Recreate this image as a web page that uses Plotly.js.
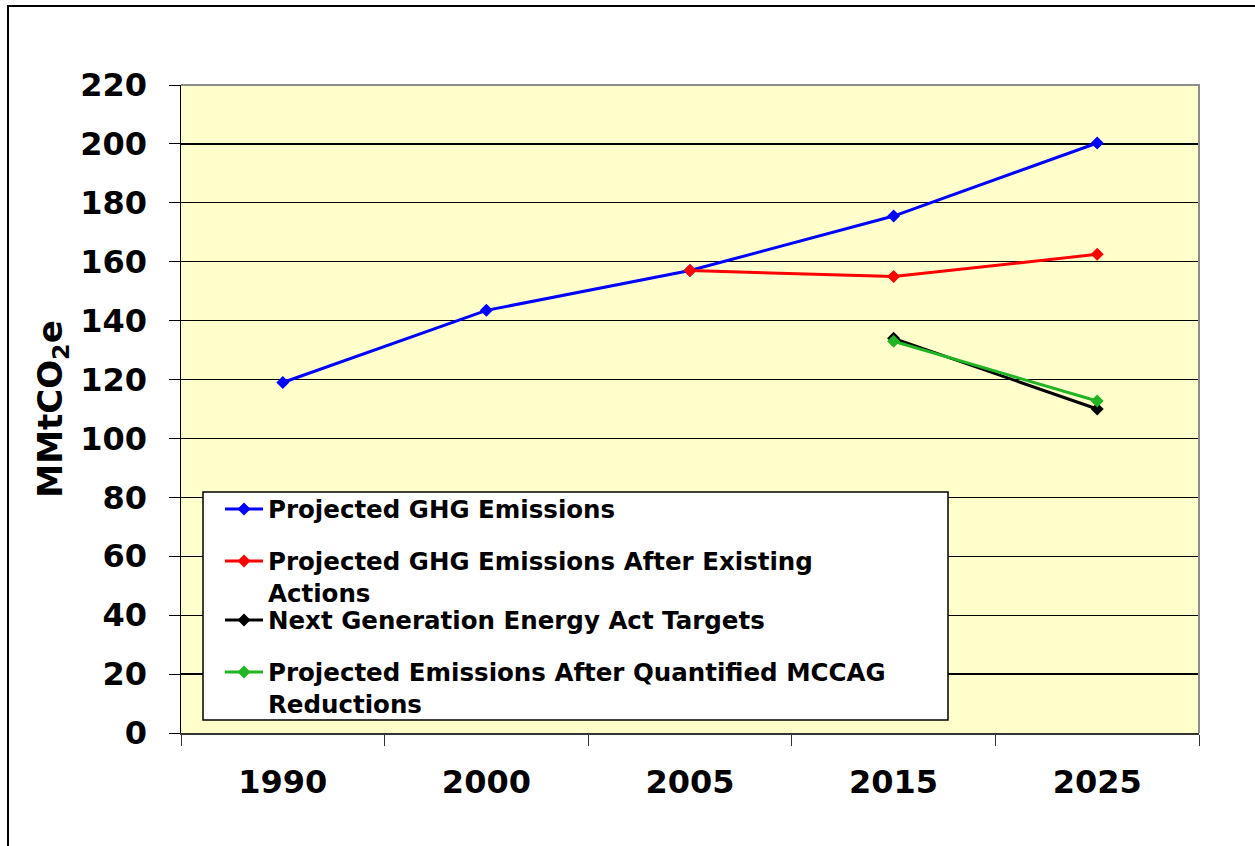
<!DOCTYPE html>
<html>
<head>
<meta charset="utf-8">
<script src="https://cdn.plot.ly/plotly-3.0.1.min.js"></script>
<style>
  html, body { margin: 0; padding: 0; background: #fff; }
  #wrap { position: relative; width: 1255px; height: 846px; overflow: hidden; }
  #chart { position: absolute; left: 0; top: 0; width: 1255px; height: 846px; }
  #frame { position: absolute; left: 7px; top: 5px; width: 1300px; height: 900px;
           border-top: 2.5px solid #000; border-left: 2.5px solid #000; pointer-events: none; }
</style>
</head>
<body>
<div id="wrap">
  <div id="chart"></div>
  <div id="frame"></div>
</div>
<script>
// ---- data ----
const years = ['1990', '2000', '2005', '2015', '2025'];
const projectedGHG = [119, 143.5, 157, 175.5, 200.3];
const afterExisting = [null, null, 157, 155, 162.5];
const ngeaTargets = [null, null, null, 134, 110];
const afterMCCAG = [null, null, null, 133, 112.7];

const seriesNames = [
  'Projected GHG Emissions',
  'Projected GHG Emissions After Existing<br>Actions',
  'Next Generation Energy Act Targets',
  'Projected Emissions After Quantified MCCAG<br>Reductions'
];
const yTicks = [0, 20, 40, 60, 80, 100, 120, 140, 160, 180, 200, 220];

// ---- chart ----
const FONT = 'DejaVu Sans, Verdana, sans-serif';

function line(y, name, color, legendId) {
  return {
    x: years, y: y, name: name, type: 'scatter', mode: 'lines+markers',
    line: { color: color, width: 3 },
    marker: { symbol: 'diamond', size: 10, color: color },
    connectgaps: false, legend: legendId, cliponaxis: false
  };
}

const traces = [
  line(projectedGHG, seriesNames[0], '#0000FF', 'legend'),
  line(afterExisting, seriesNames[1], '#FF0000', 'legend2'),
  line(ngeaTargets, seriesNames[2], '#000000', 'legend3'),
  line(afterMCCAG, seriesNames[3], '#22B422', 'legend4')
];

const L = 181, R = 1199, T = 85, B = 733;
const W = R - L, H = B - T;
const px = v => (v - L) / W;
const py = v => (B - v) / H;

function legendAt(yPix) {
  return {
    x: px(220), xanchor: 'left', y: py(yPix), yanchor: 'middle',
    bgcolor: 'rgba(0,0,0,0)', borderwidth: 0, valign: 'top',
    itemwidth: 38,
    font: { family: FONT, size: 24.5, weight: 'bold', color: '#000' }
  };
}

const layout = {
  width: 1255, height: 846,
  margin: { l: L, r: 1255 - R, t: T, b: 846 - B, pad: 0 },
  paper_bgcolor: '#FFFFFF',
  plot_bgcolor: '#FFFFCC',
  showlegend: true,
  font: { family: FONT, color: '#000' },
  xaxis: {
    type: 'category', categoryorder: 'array', categoryarray: years,
    range: [-0.5, 4.5], tickson: 'boundaries',
    ticks: 'outside', ticklen: 11, tickcolor: '#333', tickwidth: 1,
    showline: true, linecolor: '#333', linewidth: 1.5,
    showgrid: false, zeroline: false, ticklabelstandoff: 20,
    tickfont: { family: FONT, size: 32, weight: 'bold', color: '#000' },
    fixedrange: true
  },
  yaxis: {
    range: [0, 220], tickvals: yTicks, ticktext: yTicks.map(String),
    ticks: 'outside', ticklen: 11, tickcolor: '#000', tickwidth: 1,
    showline: true, linecolor: '#000', linewidth: 1.5,
    showgrid: true, gridcolor: '#000', gridwidth: 1.2, zeroline: false,
    ticklabelstandoff: 15,
    tickfont: { family: FONT, size: 32, weight: 'bold', color: '#000' },
    title: { text: 'MMtCO<sub>2</sub>e', standoff: 7,
             font: { family: FONT, size: 34, weight: 'bold', color: '#000' } },
    fixedrange: true
  },
  legend: legendAt(509),
  legend2: legendAt(577),
  legend3: legendAt(620),
  legend4: legendAt(688),
  shapes: [
    { type: 'rect', xref: 'paper', yref: 'paper', layer: 'above',
      x0: px(203), x1: px(948), y0: py(720), y1: py(492),
      line: { color: '#000', width: 1.5 }, fillcolor: '#FFFFFF' },
    { type: 'path', xref: 'paper', yref: 'paper', layer: 'above',
      path: 'M0,1 L1,1 L1,0', line: { color: '#8C8C8C', width: 2 } }
  ]
};

Plotly.newPlot('chart', traces, layout, { displayModeBar: false, staticPlot: true });
</script>
</body>
</html>
